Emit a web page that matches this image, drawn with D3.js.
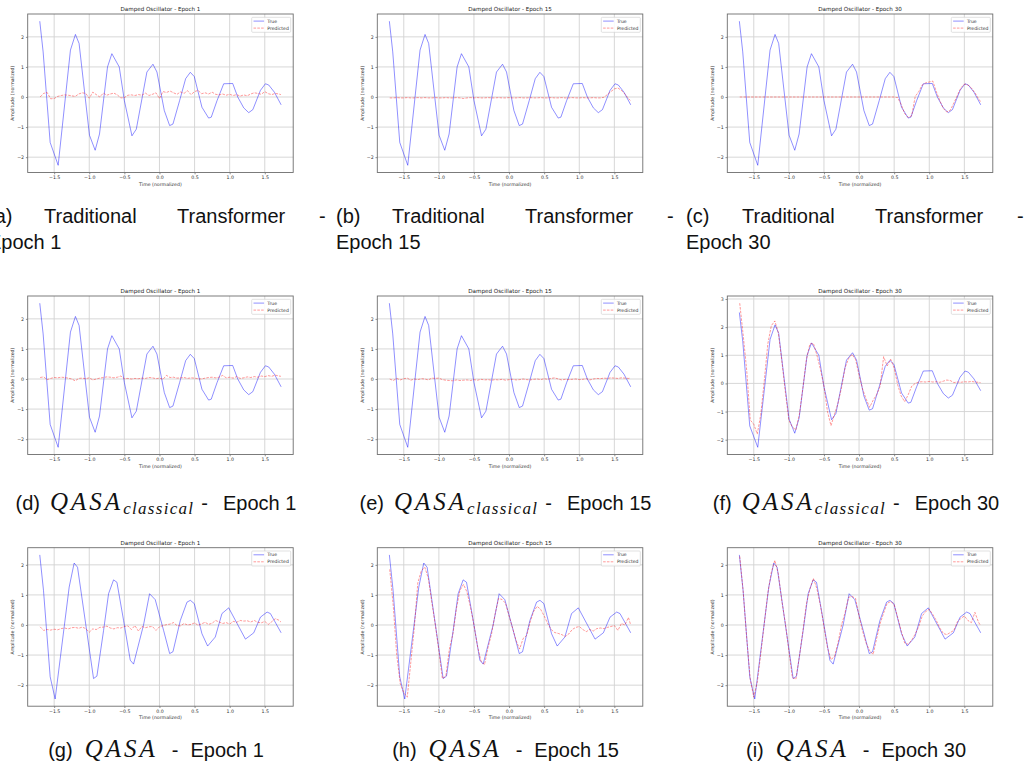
<!DOCTYPE html>
<html>
<head>
<meta charset="utf-8">
<script src="https://cdn.jsdelivr.net/npm/d3@7"></script>
<style>
  body { margin: 0; background: #fff; }
  svg { display: block; }
</style>
</head>
<body>
<svg width="1029" height="776"></svg>
<script>
// true signal, rows 1-2 (test sequence A)
var tTrueA = [-1.705, -1.657, -1.557, -1.443, -1.268, -1.197, -1.145, -0.997, -0.916, -0.854,
  -0.74, -0.678, -0.573, -0.50, -0.392, -0.33, -0.179, -0.093, -0.036, 0.069,
  0.145, 0.192, 0.287, 0.373, 0.439, 0.496, 0.605, 0.70, 0.738, 0.82,
  0.915, 1.043, 1.115, 1.20, 1.271, 1.33, 1.438, 1.509, 1.556, 1.637, 1.733];
var yTrueA = [2.52, 1.50, -1.51, -2.27, 1.56, 2.08, 1.78, -1.27, -1.77, -1.23,
  1.0, 1.44, 1.0, -0.12, -1.29, -1.07, 0.83, 1.09, 0.83, -0.45,
  -0.95, -0.9, -0.12, 0.61, 0.82, 0.68, -0.34, -0.70, -0.67, -0.12,
  0.44, 0.45, 0.0, -0.36, -0.52, -0.42, 0.22, 0.44, 0.40, 0.16, -0.26];

// true signal, row 3 (test sequence B)
var tTrueB = [-1.705, -1.652, -1.557, -1.486, -1.286, -1.215, -1.167, -0.939, -0.891, -0.796,
  -0.725, -0.654, -0.606, -0.511, -0.416, -0.369, -0.227, -0.141, -0.06, 0.059,
  0.145, 0.192, 0.297, 0.392, 0.44, 0.496, 0.605, 0.686, 0.795, 0.89,
  0.986, 1.225, 1.343, 1.438, 1.533, 1.58, 1.733];
var yTrueB = [2.33, 1.15, -1.72, -2.46, 1.26, 2.06, 1.92, -1.78, -1.70, -0.18,
  1.04, 1.50, 1.42, 0.15, -1.17, -1.30, 0.0, 1.04, 0.84, -0.18,
  -0.95, -0.89, 0.15, 0.76, 0.82, 0.71, -0.29, -0.70, -0.40, 0.38,
  0.57, -0.47, -0.26, 0.26, 0.43, 0.38, -0.26];

// times of the predicted samples
var tPred = [-1.70, -1.65, -1.60, -1.55, -1.50, -1.45, -1.40, -1.35, -1.30, -1.25,
  -1.20, -1.15, -1.10, -1.05, -1.00, -0.95, -0.90, -0.85, -0.80, -0.75,
  -0.70, -0.65, -0.60, -0.55, -0.50, -0.45, -0.40, -0.35, -0.30, -0.25,
  -0.20, -0.15, -0.10, -0.05, 0.00, 0.05, 0.10, 0.15, 0.20, 0.25,
  0.30, 0.35, 0.40, 0.45, 0.50, 0.55, 0.60, 0.65, 0.70, 0.75,
  0.80, 0.85, 0.90, 0.95, 1.00, 1.05, 1.10, 1.15, 1.20, 1.25,
  1.30, 1.35, 1.40, 1.45, 1.50, 1.55, 1.60, 1.65, 1.70, 1.73];

// predictions, one array per panel
var predA = [0.00, 0.12, 0.15, -0.06, -0.05, 0.02, 0.05, 0.07, 0.06, 0.04,
  0.02, 0.10, 0.14, 0.12, -0.04, 0.16, 0.08, 0.00, 0.13, 0.06,
  0.10, 0.13, 0.07, -0.03, -0.02, 0.06, 0.07, 0.05, 0.08, 0.06,
  0.13, 0.05, 0.09, 0.14, -0.05, 0.18, 0.15, 0.20, 0.14, 0.09,
  0.17, 0.12, 0.21, 0.08, 0.18, 0.22, 0.11, 0.14, 0.10, 0.16,
  0.09, 0.07, 0.10, 0.06, 0.09, 0.05, 0.08, 0.03, 0.07, 0.04,
  0.10, 0.14, 0.12, 0.09, 0.18, 0.11, 0.08, 0.12, 0.10, 0.08];
var predB = [-0.03, -0.03, -0.02, -0.03, -0.03, -0.02, -0.03, -0.03, -0.02, -0.03,
  -0.02, -0.03, -0.03, -0.02, -0.03, -0.03, -0.02, -0.03, -0.03, -0.02,
  -0.03, -0.05, -0.03, -0.02, -0.03, -0.02, -0.03, -0.03, -0.02, -0.03,
  -0.03, -0.02, -0.03, -0.03, -0.02, -0.03, -0.03, -0.02, -0.03, -0.03,
  -0.02, -0.03, -0.03, -0.02, -0.03, -0.03, -0.02, -0.03, -0.03, -0.02,
  -0.03, -0.03, -0.02, -0.03, -0.03, -0.02, -0.03, -0.03, -0.02, -0.03,
  -0.03, -0.01, 0.08, 0.18, 0.27, 0.30, 0.22, 0.10, -0.05, -0.12];
var predC = [0, 0, 0, 0, 0, 0, 0, 0, 0, 0,
  0, 0, 0, 0, 0, 0, 0, 0, 0, 0,
  0, 0, 0, 0, 0, 0, 0, 0, 0, 0,
  0, 0, 0, 0, 0, 0, 0, 0, 0, 0,
  0, 0, 0, 0, 0, -0.02, -0.25, -0.55, -0.68, -0.62,
  0.02, 0.18, 0.40, 0.47, 0.50, 0.53, 0.18, -0.12, -0.38, -0.50,
  -0.44, -0.20, 0.05, 0.30, 0.43, 0.40, 0.30, 0.14, -0.05, -0.15];
var predD = [0.05, 0.07, -0.02, 0.02, 0.05, 0.04, 0.06, 0.05, 0.03, 0.00,
  -0.06, 0.02, 0.03, 0.01, 0.04, -0.03, 0.00, 0.03, 0.05, 0.07,
  0.06, 0.04, 0.06, 0.10, 0.01, 0.02, 0.00, 0.02, 0.01, 0.03,
  0.02, 0.05, 0.04, 0.01, 0.03, -0.01, 0.12, 0.05, 0.06, 0.03,
  0.04, 0.05, 0.02, 0.04, 0.03, 0.01, 0.00, 0.03, 0.05, 0.06,
  0.04, 0.06, 0.12, 0.04, 0.06, 0.03, 0.08, 0.02, 0.04, 0.07,
  0.05, 0.08, 0.06, 0.10, 0.08, 0.11, 0.09, 0.13, 0.10, 0.09];
var predE = [0.00, -0.05, 0.02, -0.03, 0.01, 0.03, -0.04, 0.00, -0.02, 0.01,
  0.00, -0.03, 0.03, 0.02, 0.03, -0.02, -0.04, -0.05, -0.06, -0.03,
  -0.05, -0.04, -0.03, -0.05, -0.02, -0.04, -0.01, -0.03, -0.02, -0.04,
  -0.02, -0.03, -0.01, -0.04, -0.02, -0.01, -0.03, -0.02, 0.00, -0.02,
  -0.03, -0.01, 0.00, -0.02, 0.01, -0.01, 0.02, 0.04, 0.00, -0.03,
  -0.01, -0.02, -0.01, 0.00, -0.02, -0.01, 0.01, -0.03, 0.00, 0.02,
  0.01, 0.03, 0.02, 0.04, 0.03, 0.02, 0.04, 0.03, 0.02, 0.03];
var predF = [2.85, 1.70, 0.45, -1.30, -1.45, -1.80, -1.10, 0.10, 1.40, 2.05,
  2.22, 1.80, 0.80, -0.30, -1.30, -1.55, -1.65, -1.10, -0.15, 0.85,
  1.40, 1.42, 1.00, 0.50, -0.10, -1.00, -1.50, -1.10, -0.70, -0.15,
  0.55, 0.88, 1.03, 0.85, 0.30, -0.20, -0.55, -0.85, -0.60, -0.40,
  -0.10, 0.95, 0.62, 0.86, 0.55, -0.05, -0.45, -0.65, -0.40, -0.10,
  0.00, 0.05, 0.06, 0.05, 0.07, 0.05, 0.06, 0.04, 0.08, 0.12,
  0.10, 0.03, 0.05, 0.04, 0.06, 0.05, 0.07, 0.05, 0.04, 0.03];
var predG = [-0.06, -0.18, -0.15, -0.17, -0.14, -0.16, -0.12, -0.10, -0.13, -0.09,
  -0.08, -0.11, -0.07, -0.12, -0.24, -0.13, -0.15, -0.08, -0.07, -0.04,
  -0.10, -0.13, -0.09, -0.10, -0.05, -0.03, -0.15, -0.02, -0.20, -0.05,
  -0.09, -0.06, -0.05, -0.18, -0.06, -0.02, 0.01, 0.03, 0.08, -0.02,
  -0.03, 0.05, 0.00, 0.02, 0.07, -0.01, 0.04, 0.09, 0.02, 0.06,
  0.15, 0.10, 0.05, 0.08, 0.03, 0.12, 0.09, 0.15, 0.13, 0.14,
  0.10, 0.15, 0.09, 0.07, 0.12, 0.02, 0.11, 0.21, 0.16, 0.10];
var predH = [1.85, 0.65, -1.00, -1.95, -2.25, -2.40, -1.25, -0.10, 1.40, 1.80,
  1.92, 1.55, 0.75, 0.00, -0.85, -1.78, -1.70, -0.80, -0.30, 0.55,
  1.15, 1.35, 1.10, 0.60, 0.00, -0.70, -1.20, -1.32, -0.75, -0.30,
  0.35, 0.88, 0.85, 0.72, 0.30, -0.10, -0.52, -0.80, -0.45, -0.35,
  0.10, 0.45, 0.62, 0.52, 0.30, 0.05, -0.15, -0.25, -0.28, -0.32,
  -0.38, -0.30, -0.15, -0.08, -0.05, -0.15, -0.22, -0.15, -0.20, -0.12,
  -0.10, -0.12, -0.08, -0.05, -0.02, -0.18, 0.05, 0.00, 0.25, 0.02];
var predI = [2.28, 1.10, -0.45, -1.80, -2.40, -1.90, -0.95, 0.05, 1.05, 1.75,
  2.15, 1.70, 0.80, 0.05, -0.85, -1.75, -1.80, -1.05, -0.20, 0.70,
  1.20, 1.55, 1.20, 0.65, -0.05, -0.75, -1.15, -1.05, -0.60, 0.00,
  0.40, 0.92, 0.95, 0.88, 0.30, -0.20, -0.60, -0.85, -0.98, -0.45,
  0.05, 0.40, 0.72, 0.78, 0.68, 0.25, -0.20, -0.60, -0.64, -0.50,
  -0.30, -0.05, 0.30, 0.45, 0.52, 0.35, 0.15, -0.10, -0.28, -0.32,
  -0.25, -0.18, 0.10, 0.22, 0.30, 0.15, 0.08, 0.42, 0.10, -0.02];

var epochs = [1, 15, 30];
var xTicks = [-1.5, -1.0, -0.5, 0.0, 0.5, 1.0, 1.5];
var yTicks = [-2, -1, 0, 1, 2];
var yTicksTall = [-2, -1, 0, 1, 2, 3];
var labels = ["(a)", "(b)", "(c)", "(d)", "(e)", "(f)", "(g)", "(h)", "(i)"];
var preds = [predA, predB, predC, predD, predE, predF, predG, predH, predI];

var svg = d3.select("svg");

// panel frames (page pixels)
var colX = [27.7, 377.3, 727.3],
    rowY = [14, 296, 547.7],
    plotW = 265.5,
    plotH = 158.5;

var chartFont = "DejaVu Sans";

preds.forEach(function(pred, i) {
  var col = i % 3, row = Math.floor(i / 3);
  var tT = row < 2 ? tTrueA : tTrueB,
      yT = row < 2 ? yTrueA : yTrueB;

  var g = svg.append("g")
      .attr("transform", "translate(" + colX[col] + "," + rowY[row] + ")");

  // matplotlib style 5% margins
  var xExt = d3.extent(tT), xPad = (xExt[1] - xExt[0]) * 0.05;
  var yExt = d3.extent(yT.concat(pred)), yPad = (yExt[1] - yExt[0]) * 0.05;

  var x = d3.scaleLinear().domain([xExt[0] - xPad, xExt[1] + xPad]).range([0, plotW]);
  var y = d3.scaleLinear().domain([yExt[0] - yPad, yExt[1] + yPad]).range([plotH, 0]);
  var yt = yExt[1] + yPad > 3 ? yTicksTall : yTicks;

  // grid
  g.append("g").selectAll("line").data(xTicks).enter().append("line")
      .attr("x1", function(d) { return x(d); })
      .attr("x2", function(d) { return x(d); })
      .attr("y1", 0).attr("y2", plotH)
      .attr("stroke", "#d2d2d2").attr("stroke-width", 0.9);
  g.append("g").selectAll("line").data(yt).enter().append("line")
      .attr("y1", function(d) { return y(d); })
      .attr("y2", function(d) { return y(d); })
      .attr("x1", 0).attr("x2", plotW)
      .attr("stroke", "#d2d2d2").attr("stroke-width", 0.9);

  // lines
  var lineTrue = d3.line()
      .x(function(d, j) { return x(tT[j]); })
      .y(function(d) { return y(d); });
  var linePred = d3.line()
      .x(function(d, j) { return x(tPred[j]); })
      .y(function(d) { return y(d); });

  g.append("path")
      .attr("d", lineTrue(yT))
      .attr("fill", "none")
      .attr("stroke", "#0000ff")
      .attr("stroke-opacity", 0.55)
      .attr("stroke-width", 0.8);

  g.append("path")
      .attr("d", linePred(pred))
      .attr("fill", "none")
      .attr("stroke", "#ff0000")
      .attr("stroke-opacity", 0.5)
      .attr("stroke-width", 0.8)
      .attr("stroke-dasharray", "2.6,1.2");

  // axes
  var xAxis = g.append("g")
      .attr("transform", "translate(0," + plotH + ")")
      .call(d3.axisBottom(x).tickValues(xTicks).tickFormat(d3.format(".1f")).tickSize(1.8).tickPadding(1.8));
  var yAxis = g.append("g")
      .call(d3.axisLeft(y).tickValues(yt).tickFormat(d3.format("d")).tickSize(1.8).tickPadding(1.8));
  [xAxis, yAxis].forEach(function(a) {
    a.select(".domain").remove();
    a.attr("font-family", chartFont).attr("font-size", 4.7);
    a.selectAll("line").attr("stroke", "#444").attr("stroke-width", 0.6);
    a.selectAll("text").attr("fill", "#333");
  });

  // frame
  g.append("rect")
      .attr("width", plotW).attr("height", plotH)
      .attr("fill", "none")
      .attr("stroke", "#6e6e6e")
      .attr("stroke-width", 0.9);

  // title and axis labels
  g.append("text")
      .attr("x", plotW / 2).attr("y", -3)
      .attr("text-anchor", "middle")
      .attr("font-family", chartFont).attr("font-size", 5.6)
      .attr("fill", "#222")
      .text("Damped Oscillator - Epoch " + epochs[col]);

  g.append("text")
      .attr("x", plotW / 2).attr("y", plotH + 13.3)
      .attr("text-anchor", "middle")
      .attr("font-family", chartFont).attr("font-size", 4.7)
      .attr("fill", "#333")
      .text("Time (normalized)");

  g.append("text")
      .attr("transform", "translate(-15.4," + (plotH / 2) + ") rotate(-90)")
      .attr("text-anchor", "middle")
      .attr("dy", "0.35em")
      .attr("font-family", chartFont).attr("font-size", 4.7)
      .attr("fill", "#333")
      .text("Amplitude (normalized)");

  // legend
  var lg = g.append("g").attr("transform", "translate(" + (plotW - 41.5) + ",3.3)");
  lg.append("rect")
      .attr("width", 39).attr("height", 15).attr("rx", 1)
      .attr("fill", "#fff").attr("fill-opacity", 0.85)
      .attr("stroke", "#cccccc").attr("stroke-width", 0.6);
  var entries = [
    {name: "True", color: "#0000ff", op: 0.55, dash: null},
    {name: "Predicted", color: "#ff0000", op: 0.5, dash: "2.6,1.2"}
  ];
  entries.forEach(function(e, k) {
    var cy = 3.8 + k * 7;
    lg.append("line")
        .attr("x1", 1.8).attr("x2", 12.4).attr("y1", cy).attr("y2", cy)
        .attr("stroke", e.color).attr("stroke-opacity", e.op)
        .attr("stroke-width", 0.8)
        .attr("stroke-dasharray", e.dash);
    lg.append("text")
        .attr("x", 15.6).attr("y", cy).attr("dy", "0.35em")
        .attr("font-family", chartFont).attr("font-size", 4.6)
        .attr("fill", "#333")
        .text(e.name);
  });
});

// ---- captions ----
var capFont = "Liberation Sans", mathFont = "Liberation Serif";

// row 1: justified two-line captions
var capColOff = [0, 348, 698];
capColOff.forEach(function(off, c) {
  var words = [
    {t: labels[c], x: -12},
    {t: "Traditional", x: 44},
    {t: "Transformer", x: 177},
    {t: "-", x: 319}
  ];
  words.forEach(function(w) {
    svg.append("text")
        .attr("x", off + w.x).attr("y", 223)
        .attr("font-family", capFont).attr("font-size", 20)
        .attr("fill", "#111")
        .text(w.t);
  });
  svg.append("text")
      .attr("x", off - 12).attr("y", 249)
      .attr("font-family", capFont).attr("font-size", 20)
      .attr("fill", "#111")
      .text("Epoch " + epochs[c]);
});

// rows 2 and 3: centred captions with math
function caption(cx, baseline, pieces) {
  var g = svg.append("g");
  var pos = 0;
  pieces.forEach(function(p) {
    pos += p.gap || 0;
    var t = g.append("text")
        .attr("x", pos).attr("y", baseline + (p.dy || 0))
        .attr("font-family", p.math ? mathFont : capFont)
        .attr("font-style", p.math ? "italic" : "normal")
        .attr("font-size", p.size)
        .attr("letter-spacing", p.ls || 0)
        .attr("fill", "#111")
        .text(p.text);
    pos += t.node().getComputedTextLength();
  });
  g.attr("transform", "translate(" + (cx - pos / 2) + ",0)");
}

var capCenters = [156, 505.5, 856];
capCenters.forEach(function(cx, c) {
  caption(cx, 510, [
    {text: labels[3 + c], size: 20},
    {text: "QASA", math: true, size: 25, ls: 3, gap: 10},
    {text: "classical", math: true, size: 17, ls: 1.3, dy: 4},
    {text: "-", size: 20, gap: 7},
    {text: "Epoch " + epochs[c], size: 20, gap: 15}
  ]);
  caption(cx, 757, [
    {text: labels[6 + c], size: 20},
    {text: "QASA", math: true, size: 25, ls: 3, gap: 12},
    {text: "-", size: 20, gap: 14},
    {text: "Epoch " + epochs[c], size: 20, gap: 12}
  ]);
});
</script>
</body>
</html>
